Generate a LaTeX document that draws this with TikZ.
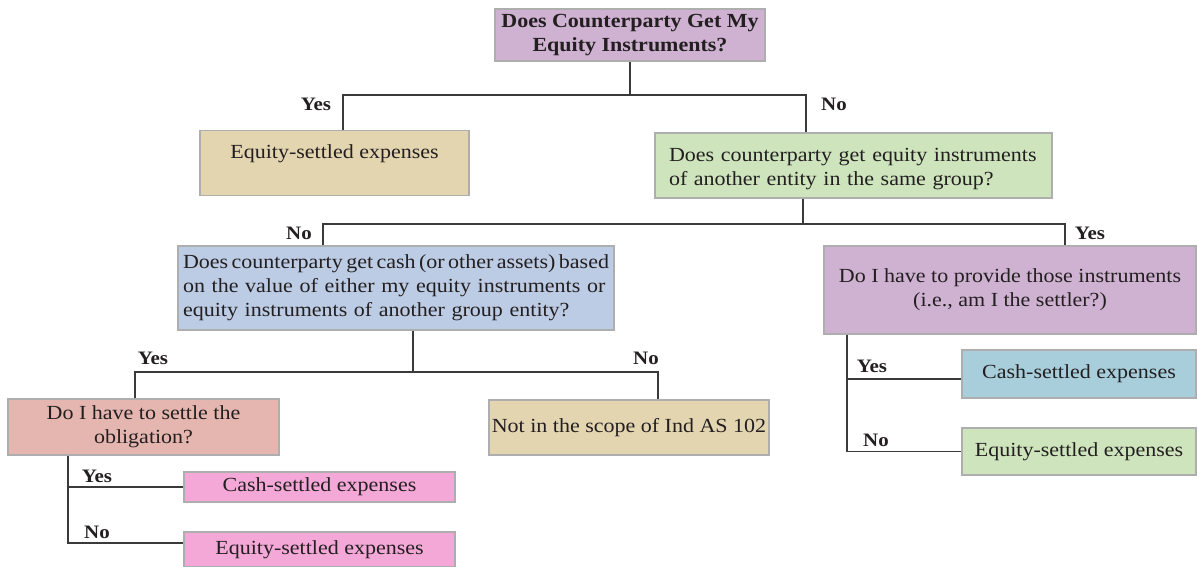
\documentclass[tikz,border=0pt]{standalone}
\usepackage{fontspec}
\setmainfont{Liberation Serif}[FakeStretch=1.1]
\usetikzlibrary{calc}
\definecolor{cpurple}{HTML}{CFB2D2}
\definecolor{cbeige}{HTML}{E3D5B0}
\definecolor{cgreen}{HTML}{CDE4BD}
\definecolor{cblue}{HTML}{BDCCE5}
\definecolor{cred}{HTML}{E4B6AF}
\definecolor{cpink}{HTML}{F4A8D8}
\definecolor{ccyan}{HTML}{A8CEDC}
\definecolor{ctext}{HTML}{231F20}
\definecolor{cborder}{HTML}{AEAEAE}
\definecolor{cline}{HTML}{3A3A3A}
\tikzset{
  box/.style={draw=cborder, line width=1.3pt, inner sep=0pt, text=ctext,
    font=\fontsize{20}{24}\selectfont, align=center},
  lbl/.style={font=\fontsize{19}{22}\selectfont\bfseries, text=ctext, inner sep=0pt},
  conn/.style={draw=cline, line width=1.4pt}
}
\begin{document}
\begin{tikzpicture}[x=1pt,y=-1pt]
\useasboundingbox (0,0) rectangle (1197,567);
% boxes
\node[box, fill=cpurple, minimum width=270, minimum height=52, font=\fontsize{20}{24}\selectfont\bfseries] (q1) at (630,35) {Does Counterparty Get My\\Equity Instruments?};
\node[box, fill=cbeige, minimum width=269, text height=28, text depth=37] (e1) at (334.5,130) [anchor=north] {Equity-settled expenses};
\node[box, fill=cgreen, minimum width=397, minimum height=65, text width=369, align=left] (g1) at (853.5,165.5) {\rule{0pt}{21pt}Does counterparty get equity instruments\\of another entity in the same group?};
\node[box, fill=cblue, minimum width=436, minimum height=84, text width=426, align=left] (b1) at (396,288) {{\spaceskip=1.5pt plus 20pt\makebox[426pt][s]{Does counterparty get cash (or other assets) based}}\\\makebox[426pt][s]{on the value of either my equity instruments or}\\equity instruments of another group entity?};
\node[box, fill=cpurple, minimum width=372, minimum height=88] (p2) at (1010,290) {Do I have to provide those instruments\\(i.e., am I the settler?)};
\node[box, fill=cred, minimum width=271, minimum height=56] (r1) at (143.5,427) {Do I have to settle the\\obligation?};
\node[box, fill=cbeige, minimum width=280, minimum height=55] (n1) at (629,427.5) {Not in the scope of Ind AS 102};
\node[box, fill=cpink, minimum width=271, minimum height=30] (c1) at (319.5,487) {Cash-settled expenses};
\node[box, fill=cpink, minimum width=271, minimum height=35] (e3) at (319.5,549.5) {Equity-settled expenses};
\node[box, fill=ccyan, minimum width=234, minimum height=48] (c2) at (1079,374) {Cash-settled expenses};
\node[box, fill=cgreen, minimum width=234, minimum height=47] (e4) at (1079,451.5) {Equity-settled expenses};
% junctions
\coordinate (j1) at (630,95);
\coordinate (j2) at (803,224);
\coordinate (j3) at (413,372);
\coordinate (rb) at ([xshift=-75.5pt]r1.south);
\coordinate (pb) at ([xshift=-163pt]p2.south);
% connectors
\draw[conn] (q1.south) -- (j1);
\draw[conn] ([xshift=8.5pt]e1.north) |- (j1) -| ([xshift=-47.5pt]g1.north);
\draw[conn] ([xshift=-50.5pt]g1.south) -- (j2);
\draw[conn] ([xshift=-73pt]b1.north) |- (j2) -| ([xshift=55pt]p2.north);
\draw[conn] ([xshift=17pt]b1.south) -- (j3);
\draw[conn] ([xshift=-8.5pt]r1.north) |- (j3) -| ([xshift=29pt]n1.north);
\draw[conn] (rb) |- ([yshift=6.5pt]e3.west);
\draw[conn] (c1.west) -- (c1.west -| rb);
\draw[conn] (pb) |- (e4.west);
\draw[conn] ([yshift=-5pt]c2.west) -- ([yshift=-5pt]c2.west -| pb);
% labels
\node[lbl] (y1) at (316,104) {Yes};
\node[lbl] (n1l) at (834,104) {No};
\node[lbl] (n2l) at (299,233) {No};
\node[lbl] (y2) at (1090,233) {Yes};
\node[lbl] (y3) at (153,358) {Yes};
\node[lbl] (n3l) at (646,358) {No};
\node[lbl] (y4) at (97,476) {Yes};
\node[lbl] (n4l) at (97,532) {No};
\node[lbl] (y5) at (872,366) {Yes};
\node[lbl] (n5l) at (876,440) {No};
\end{tikzpicture}
\end{document}
